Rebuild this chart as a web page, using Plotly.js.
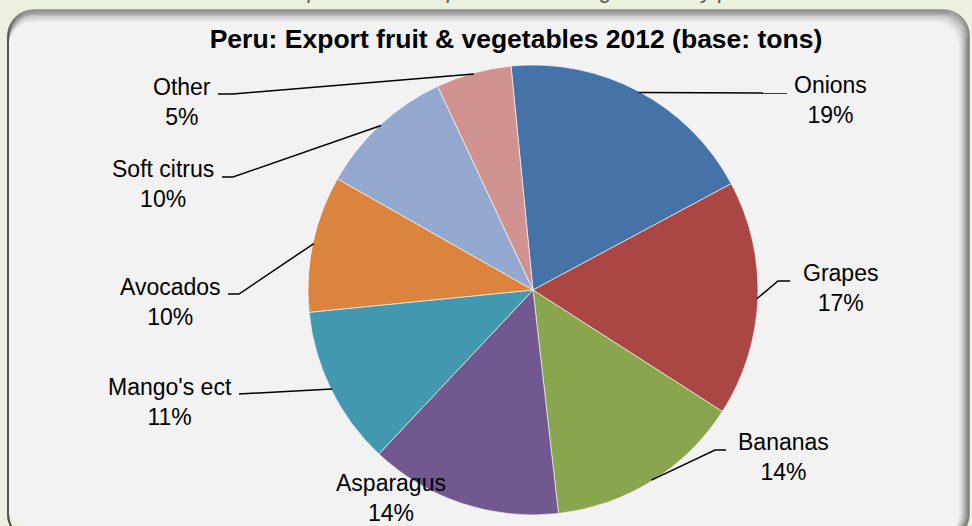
<!DOCTYPE html>
<html><head><meta charset="utf-8">
<script src="https://cdn.plot.ly/plotly-3.0.1.min.js"></script>
<style>html,body{margin:0;padding:0;background:#ebf1de;} #chart{width:972px;height:526px;}</style>
</head><body><div id="chart"></div>
<script>
// ---- data ----
const categories = ["Onions", "Grapes", "Bananas", "Asparagus", "Mango's ect", "Avocados", "Soft citrus", "Other"];
const shares = [18.7, 16.9, 14.1, 13.8, 11.4, 9.8, 9.8, 5.4];
const sliceColors = ["#4572A7", "#AA4643", "#89A54E", "#71588F", "#4198AF", "#DB843D", "#93A9CF", "#D19392"];
const chartTitle = "Peru: Export fruit & vegetables 2012 (base: tons)";
const captionText = "Graph 1: Peru: Export fruit and vegetables by product";

// ---- layout (pixels) ----
const W = 972, H = 526;
const CX = 533, CY = 290, R = 225;
const ROT = -5.6;
const labelPos = [[830, 100], [840, 288], [783, 457], [391, 498], [170, 402], [170, 302], [163, 184], [182, 102]];
const leaderPts = [[[787, 93]], [[778, 281], [790, 281]], [[715, 450], [726, 450]], null,
                   [[239, 394]], [[239, 294], [228, 294]], [[233, 177], [222, 177]], [[233, 94], [218, 94]]];

const fx = x => x / W, fy = y => 1 - y / H;
const P = (x, y) => fx(x).toFixed(5) + ',' + fy(y).toFixed(5);

function roundRect(x0, y0, x1, y1, r) {
  const k = 0.5523 * r;
  return 'M' + P(x0 + r, y0) + ' L' + P(x1 - r, y0) +
    ' C' + P(x1 - r + k, y0) + ' ' + P(x1, y0 + r - k) + ' ' + P(x1, y0 + r) +
    ' L' + P(x1, y1 - r) +
    ' C' + P(x1, y1 - r + k) + ' ' + P(x1 - r + k, y1) + ' ' + P(x1 - r, y1) +
    ' L' + P(x0 + r, y1) +
    ' C' + P(x0 + r - k, y1) + ' ' + P(x0, y1 - r + k) + ' ' + P(x0, y1 - r) +
    ' L' + P(x0, y0 + r) +
    ' C' + P(x0, y0 + r - k) + ' ' + P(x0 + r - k, y0) + ' ' + P(x0 + r, y0) + ' Z';
}

const total = shares.reduce((a, b) => a + b, 0);

const shapes = [];
// panel
shapes.push({type: 'path', xref: 'paper', yref: 'paper', layer: 'below',
  path: roundRect(8, 10, 969, 530, 26), fillcolor: '#f2f2f2', line: {width: 0}});
// inner shadow (top / right)
for (let i = 0; i < 10; i++) {
  shapes.push({type: 'path', xref: 'paper', yref: 'paper', layer: 'below',
    path: roundRect(8, 10 + i * 1.3, 969 - i * 1.1, 540, 26),
    fillcolor: 'rgba(0,0,0,0)', line: {color: 'rgba(80,80,80,' + (0.6 * Math.pow(1 - i / 10, 1.5)).toFixed(3) + ')', width: 1.7}});
}

// leader lines: start at slice mid-angle on the pie edge
let cum = 0;
const annotations = [];
shares.forEach((v, i) => {
  const mid = (ROT + 360 * (cum + v / 2) / total) * Math.PI / 180;
  cum += v;
  const sx = CX + (R - 1) * Math.sin(mid), sy = CY - (R - 1) * Math.cos(mid);
  if (leaderPts[i]) {
    let path = 'M' + P(sx, sy);
    leaderPts[i].forEach(p => { path += ' L' + P(p[0], p[1]); });
    shapes.push({type: 'path', xref: 'paper', yref: 'paper', layer: 'above', path: path,
      line: {color: '#000000', width: 1.5}});
  }
  const pct = Math.round(v / total * 100);
  annotations.push({xref: 'paper', yref: 'paper', x: fx(labelPos[i][0]), y: fy(labelPos[i][1]),
    xanchor: 'center', yanchor: 'middle', showarrow: false, align: 'center',
    text: categories[i] + '<br>' + pct + '%', font: {size: 23, color: '#000000'}});
});

annotations.push({xref: 'paper', yref: 'paper', x: fx(532), y: fy(5.5), xanchor: 'center', yanchor: 'bottom',
  showarrow: false, text: '<i>' + captionText + '</i>', font: {size: 22, color: '#595959'}});

const trace = {
  type: 'pie', labels: categories, values: shares, sort: false, direction: 'clockwise',
  rotation: ROT, textinfo: 'none', hoverinfo: 'label+percent',
  marker: {colors: sliceColors, line: {color: 'rgba(255,255,255,0.75)', width: 0.8}},
  domain: {x: [fx(CX - R), fx(CX + R)], y: [fy(CY + R), fy(CY - R)]},
  showlegend: false
};

const layout = {
  width: W, height: H, margin: {l: 0, r: 0, t: 0, b: 0},
  paper_bgcolor: '#ebf1de', plot_bgcolor: 'rgba(0,0,0,0)',
  font: {family: 'Liberation Sans, Arial, sans-serif', color: '#000000'},
  title: {text: '<b>' + chartTitle + '</b>', font: {size: 26.5, color: '#000000'},
    x: fx(516), xanchor: 'center', xref: 'container', y: fy(39), yanchor: 'middle', yref: 'container'},
  showlegend: false,
  shapes: shapes, annotations: annotations
};

Plotly.newPlot('chart', [trace], layout, {staticPlot: true, displayModeBar: false});
</script></body></html>
